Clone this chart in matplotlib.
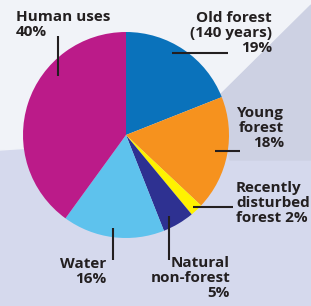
import matplotlib
matplotlib.use('Agg')
import matplotlib.pyplot as plt
from matplotlib.patches import Polygon

# data
categories = ['Old forest', 'Young forest', 'Recently disturbed forest',
              'Natural non-forest', 'Water', 'Human uses']
shares = [19, 18, 2, 5, 16, 40]
colors = ['#0a72bb', '#f6921e', '#fff200', '#2e3191', '#5ec2ed', '#bb1b89']
label_texts = ['Old forest\n(140 years)\n19%', 'Young\nforest\n18%',
               'Recently\ndisturbed\nforest 2%', 'Natural\nnon-forest\n5%',
               'Water\n16%', 'Human uses\n40%']

W, H = 311, 306


def py(y):
  # pixel row (top origin) -> data y
  return H - y


fig = plt.figure(figsize=(W / 100, H / 100), dpi=100)
ax = fig.add_axes([0, 0, 1, 1])

# background: pale photo-like backdrop
ax.add_patch(Polygon([(0, 0), (W, 0), (W, H), (0, H)], closed=True,
                     color='#d5d9ed', zorder=0))
ax.add_patch(Polygon([(0, py(150)), (0, py(0)), (W, py(0)), (W, py(5)),
                      (215, py(100)), (150, py(140))], closed=True,
                     color='#f1f3f8', zorder=0))
ax.add_patch(Polygon([(W, py(5)), (W, py(160)), (230, py(160)),
                      (215, py(100))], closed=True,
                     color='#cdd1e3', zorder=0))

ax.pie(shares, colors=colors, startangle=90, counterclock=False,
       center=(126, py(135)), radius=103, frame=True,
       wedgeprops=dict(linewidth=0))
ax.set_xlim(0, W)
ax.set_ylim(0, H)
ax.set_aspect('equal')
ax.axis('off')

font = dict(family='Open Sans', weight='bold', fontsize=11.0,
            color='#231f20', linespacing=1.1)

# label positions (pixel coords), alignment
label_pos = [(272, 11, 'right'), (284, 106, 'right'), (236, 181, 'left'),
             (230, 256, 'right'), (106, 257, 'right'), (16, 10, 'left')]
for txt, (x, y, ha) in zip(label_texts, label_pos):
  ax.text(x, py(y), txt, ha=ha, va='top', multialignment=ha, **font)

# leader lines
leaders = [((172, 53), (228, 53)), ((215, 151), (240, 151)),
           ((193, 207), (233, 207)), ((169, 216), (169, 260)),
           ((113, 228), (113, 260)), ((58, 36), (58, 76))]
for (x0, y0), (x1, y1) in leaders:
  ax.plot([x0, x1], [py(y0), py(y1)], color='#231f20', lw=1.5,
          solid_capstyle='butt', zorder=5)

fig.savefig('out.png', dpi=100)
